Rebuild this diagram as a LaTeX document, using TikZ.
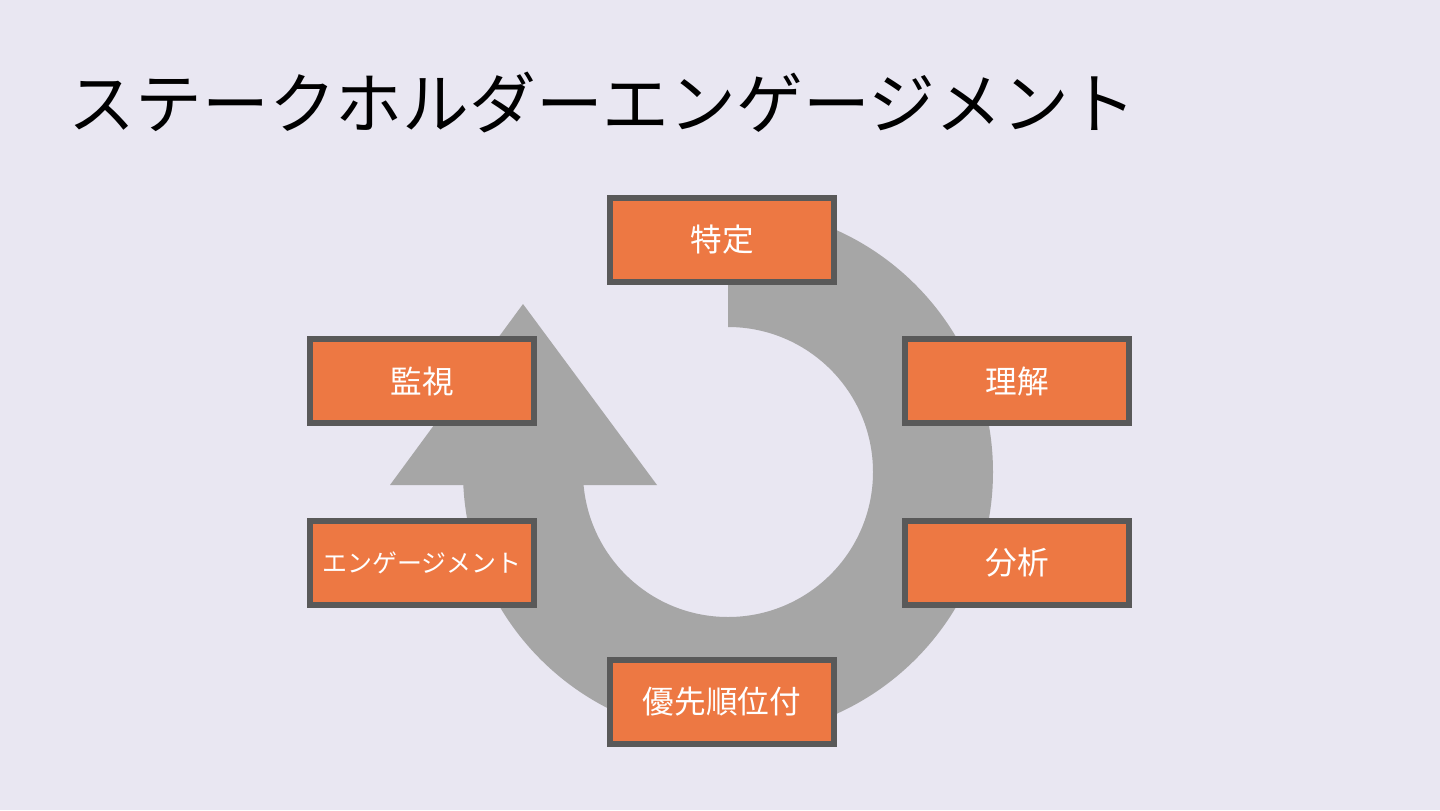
\documentclass[tikz,border=0pt]{standalone}
\usepackage{fontspec}
\setmainfont{Noto Sans CJK JP}
\usepackage{tikz}
\usetikzlibrary{positioning,calc}
\definecolor{bgpale}{HTML}{E9E7F2}
\definecolor{ringgray}{HTML}{A6A6A6}
\definecolor{stageorange}{HTML}{ED7843}
\definecolor{edgegray}{HTML}{595959}
\tikzset{
  stagebox/.style ={rectangle, draw=edgegray, line width=0.06cm,
                    fill=stageorange, minimum width=2.24cm, minimum height=0.84cm,
                    align=center, text=white, font=\fontsize{9}{11}\selectfont},
  ringfill/.style ={fill=ringgray},
  headline/.style ={anchor=west, inner sep=0pt, font=\fontsize{19}{22}\selectfont}
}
\begin{document}
\begin{tikzpicture}
\fill[bgpale] (0,0) rectangle (14.4,8.1);
\useasboundingbox (0,0) rectangle (14.4,8.1);
\node[headline] (title) at (0.68,7.07) {ステークホルダーエンゲージメント};
% cycle arrow
\coordinate (hub) at (7.28,3.38);
\fill[ringfill] ($(hub)+(0,2.65)$) arc[start angle=90, end angle=-180, radius=2.65]
  -- ++(1.2,0) arc[start angle=-180, end angle=90, radius=1.45] -- cycle;
\fill[ringfill] (3.90,3.25) -- (5.23,5.06) -- (6.57,3.25) -- cycle;
% stages
\node[stagebox] (identify) at (7.22,5.70) {特定};
\node[stagebox] (understand) at (10.17,4.29) {理解};
\node[stagebox] (analyse) at (10.17,2.47) {分析};
\node[stagebox] (prioritise) at (7.22,1.08) {優先順位付};
\node[stagebox, font=\fontsize{7.1}{9}\selectfont] (engage) at (4.22,2.47) {エンゲージメント};
\node[stagebox] (monitor) at (4.22,4.29) {監視};
\end{tikzpicture}
\end{document}
